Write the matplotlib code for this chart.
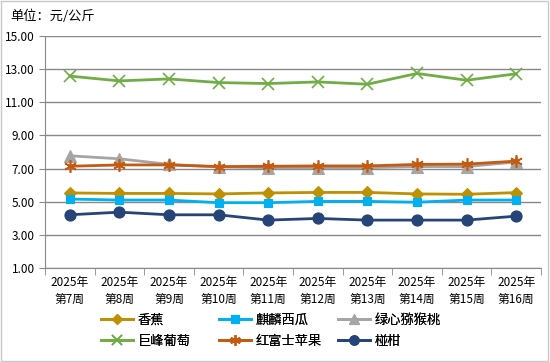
import matplotlib.pyplot as plt
from matplotlib.ticker import FixedLocator, FormatStrFormatter

plt.rcParams['font.family'] = ['Noto Sans CJK SC', 'DejaVu Sans']

weeks = ["2025年\n第%d周" % w for w in range(7, 17)]

banana = [5.53, 5.50, 5.50, 5.47, 5.53, 5.56, 5.56, 5.47, 5.45, 5.55]
watermelon = [5.16, 5.10, 5.10, 4.94, 4.94, 5.02, 5.02, 4.97, 5.10, 5.10]
kiwi = [7.77, 7.59, 7.25, 7.10, 7.05, 7.05, 7.05, 7.12, 7.12, 7.40]
grape = [12.58, 12.29, 12.41, 12.19, 12.13, 12.23, 12.09, 12.74, 12.33, 12.72]
apple = [7.14, 7.22, 7.22, 7.12, 7.14, 7.16, 7.16, 7.25, 7.27, 7.45]
orange = [4.21, 4.37, 4.21, 4.21, 3.89, 3.99, 3.89, 3.89, 3.89, 4.13]

series = [
    ("香蕉", banana, "#BF9000", "D", 6),
    ("麒麟西瓜", watermelon, "#00B0F0", "s", 6),
    ("绿心猕猴桃", kiwi, "#A5A5A5", "^", 8),
    ("巨峰葡萄", grape, "#70AD47", "x", 8),
    ("红富士苹果", apple, "#C55A11", (6, 2, 0), 9),
    ("椪柑", orange, "#264478", "o", 8),
]

fig = plt.figure(figsize=(5.5, 3.62), dpi=100)
ax = fig.add_axes([45 / 550, 1 - 268 / 362, 496 / 550, 232 / 362])

x = list(range(len(weeks)))
lines = []
for name, vals, color, marker, ms in series:
    thin = marker == "x" or isinstance(marker, tuple)
    ln, = ax.plot(x, vals, color=color, marker=marker, markersize=ms, linewidth=2,
                  markeredgewidth=1.2 if thin else 0.8, markeredgecolor=color, label=name)
    lines.append(ln)

ax.set_ylim(1, 15)
ax.set_yticks(range(1, 16, 2))
ax.yaxis.set_major_formatter(FormatStrFormatter("%.2f"))
ax.set_xlim(-0.5, len(weeks) - 0.5)
ax.set_xticks(x)
ax.set_xticklabels(weeks, fontsize=8.5, linespacing=1.35)
ax.xaxis.set_minor_locator(FixedLocator([i - 0.5 for i in range(len(weeks) + 1)]))
ax.tick_params(axis='x', which='major', length=0, pad=6)
ax.tick_params(axis='x', which='minor', length=5, color="#898989")
ax.tick_params(axis='y', length=4, color="#898989", labelsize=8.5)

ax.grid(axis='y', color="#898989", linewidth=1)
ax.set_axisbelow(True)
for s in ["top", "right"]:
    ax.spines[s].set_visible(False)
ax.spines["left"].set_color("#898989")
ax.spines["bottom"].set_color("#898989")

fig.text(10 / 550, 1 - 16 / 362, "单位：元/公斤", fontsize=9.5, va="center")

# one legend per column so the columns sit where the reference has them
col_x = [92, 210, 329]
for i, cx in enumerate(col_x):
    pair = [lines[i], lines[i + 3]]
    leg = fig.legend(pair, [l.get_label() for l in pair], loc="lower left",
                     bbox_to_anchor=(cx / 550, 5 / 362), ncol=1, frameon=False,
                     fontsize=9.5, handlelength=2.4, labelspacing=0.6, markerscale=0.85,
                     handletextpad=0.35, borderpad=0.2)
    fig.add_artist(leg)

fig.patches.append(plt.Rectangle((0.002, 0.003), 0.995, 0.994, transform=fig.transFigure,
                                 fill=False, edgecolor="#C8C8C8", linewidth=1))

fig.savefig("out.png", dpi=100)
